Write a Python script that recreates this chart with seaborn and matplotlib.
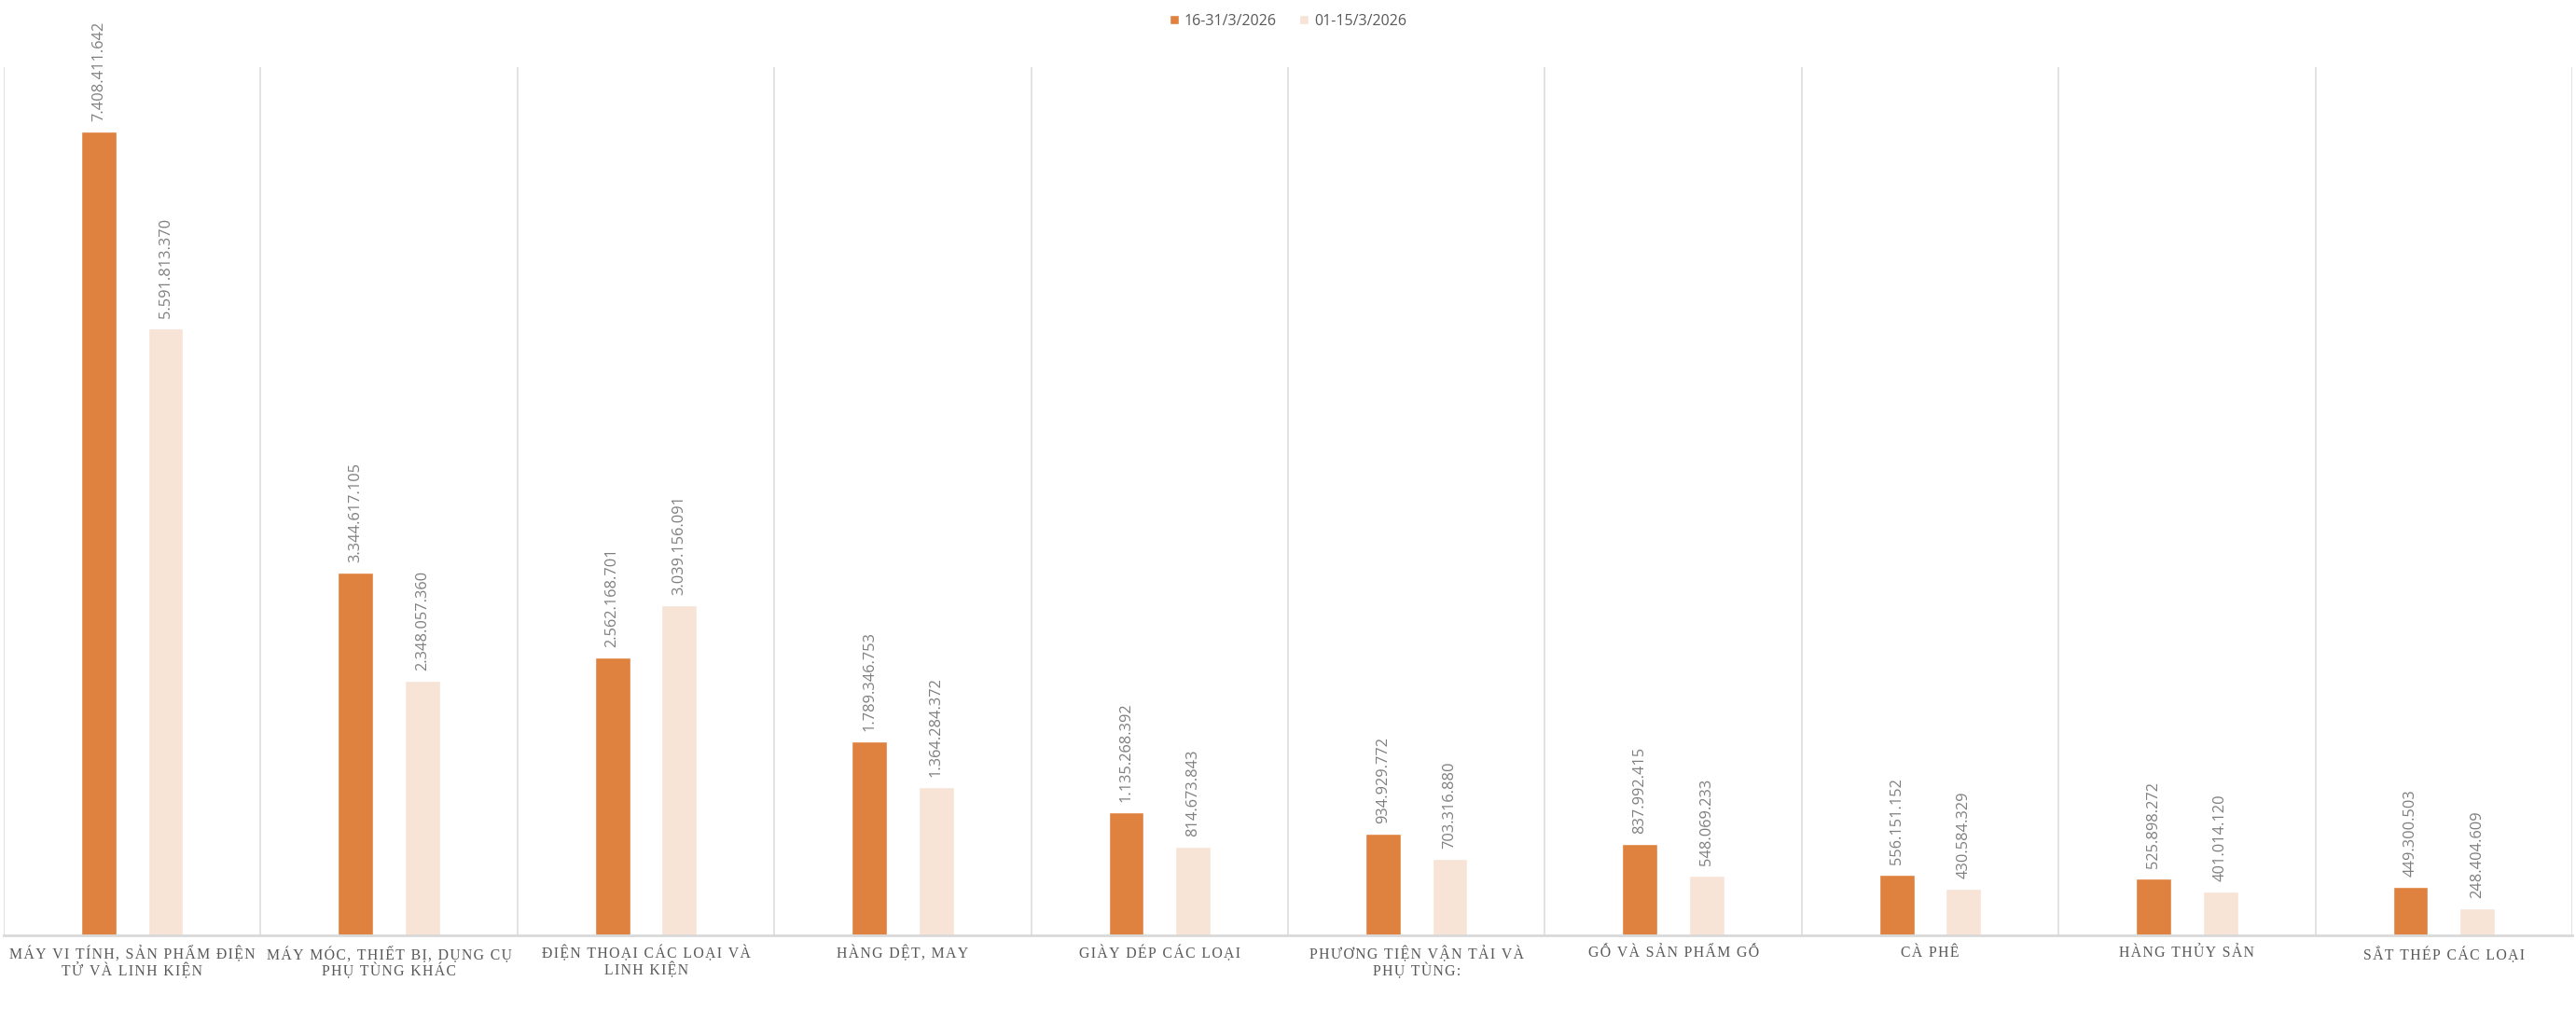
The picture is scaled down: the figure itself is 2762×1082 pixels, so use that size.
import pandas as pd
import matplotlib

matplotlib.use("Agg")
import matplotlib.pyplot as plt
import seaborn as sns


categories = [
    "MÁY VI TÍNH, SẢN PHẨM ĐIỆN\nTỬ VÀ LINH KIỆN",
    "MÁY MÓC, THIẾT BỊ, DỤNG CỤ\nPHỤ TÙNG KHÁC",
    "ĐIỆN THOẠI CÁC LOẠI VÀ\nLINH KIỆN",
    "HÀNG DỆT, MAY",
    "GIÀY DÉP CÁC LOẠI",
    "PHƯƠNG TIỆN VẬN TẢI VÀ\nPHỤ TÙNG:",
    "GỖ VÀ SẢN PHẨM GỖ",
    "CÀ PHÊ",
    "HÀNG THỦY SẢN",
    "SẮT THÉP CÁC LOẠI",
]
series_names = ["16-31/3/2026", "01-15/3/2026"]
late_march = [
    7408411642, 3344617105, 2562168701, 1789346753, 1135268392,
    934929772, 837992415, 556151152, 525898272, 449300503,
]
early_march = [
    5591813370, 2348057360, 3039156091, 1364284372, 814673843,
    703316880, 548069233, 430584329, 401014120, 248404609,
]
colors = ["#E0823F", "#F7E4D7"]


def main() -> None:
    data = __build_frame()
    __draw(data, "out.png")


def __build_frame() -> pd.DataFrame:
    rows = []
    for name, values in zip(series_names, [late_march, early_march]):
        for cat, val in zip(categories, values):
            rows.append({"Category": cat, "Period": name, "Value": val})
    return pd.DataFrame(rows)


def __fmt(v: float) -> str:
    return f"{v:,.0f}".replace(",", ".")


def __spaced(text: str) -> str:
    # poor man's letter spacing for the category labels
    return "\n".join("\u200a".join(line) for line in text.split("\n"))


def __draw(data: pd.DataFrame, out_path: str) -> None:
    sns.set_style("white")
    plt.rcParams["font.family"] = ["Open Sans", "DejaVu Sans"]

    fig = plt.figure(figsize=(27.62, 10.82), dpi=100)
    ax = fig.add_axes([0.00145, 0.073, 0.9971, 0.8605])

    sns.barplot(
        data=data,
        x="Category",
        y="Value",
        hue="Period",
        order=categories,
        hue_order=series_names,
        palette=colors,
        width=0.52,
        gap=0.47,
        saturation=1,
        ax=ax,
    )

    ax.set_ylim(0, 8e9)
    ax.set_xlim(-0.5, len(categories) - 0.5)
    for b in range(len(categories) + 1):
        ax.axvline(b - 0.5, color="#DDDDDD", lw=1.2, zorder=0)

    for container in ax.containers:
        for bar in container:
            h = bar.get_height()
            ax.annotate(
                __fmt(h),
                (bar.get_x() + bar.get_width() / 2, h),
                xytext=(0, 8),
                textcoords="offset points",
                ha="center",
                va="bottom",
                rotation=90,
                fontsize=11.8,
                color="#7F7F7F",
            )

    ax.set_xticks(range(len(categories)))
    ax.set_xticklabels(
        [__spaced(c) for c in categories],
        family=["Liberation Serif", "DejaVu Serif"],
        fontsize=11.3,
        color="#595959",
        linespacing=1.05,
    )
    ax.tick_params(axis="x", length=0, pad=8)
    ax.set_yticks([])
    ax.set_xlabel("")
    ax.set_ylabel("")
    for side in ["top", "left", "right"]:
        ax.spines[side].set_visible(False)
    ax.spines["bottom"].set_color("#D9D9D9")
    ax.spines["bottom"].set_linewidth(2)

    handles, labels = ax.get_legend_handles_labels()
    ax.get_legend().remove()
    fig.legend(
        handles,
        labels,
        loc="center",
        bbox_to_anchor=(0.5, 0.979),
        ncol=2,
        frameon=False,
        fontsize=11.5,
        handlelength=0.6,
        handleheight=0.6,
        handletextpad=0.4,
        columnspacing=1.5,
        labelcolor="#595959",
    )

    fig.savefig(out_path, dpi=100)
    plt.close(fig)


if __name__ == "__main__":
    main()
